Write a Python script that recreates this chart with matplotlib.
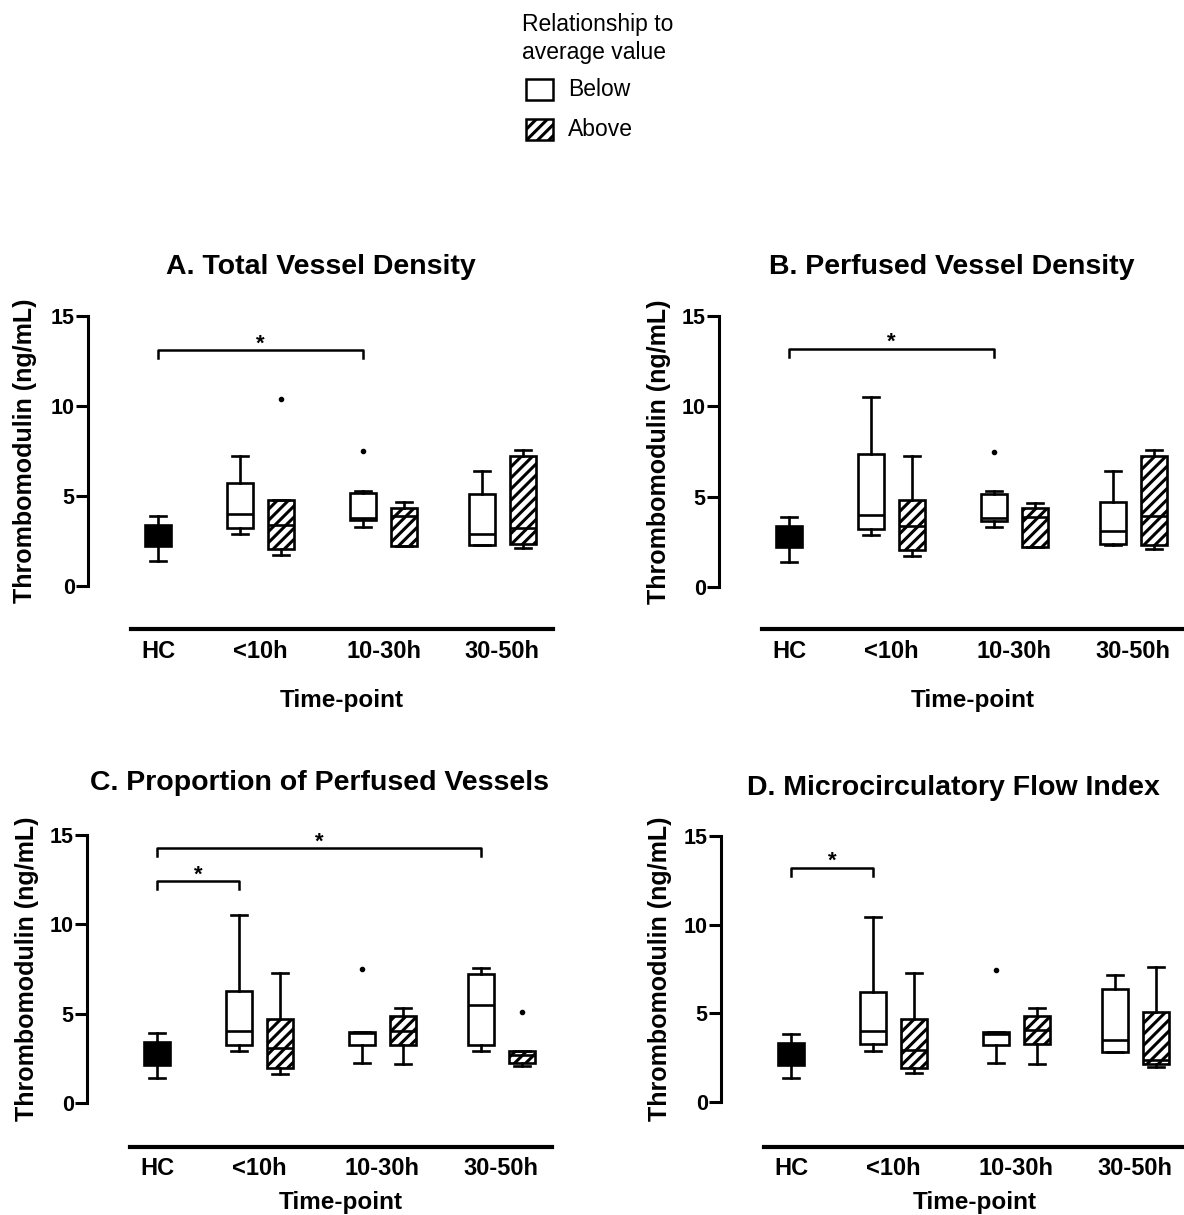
import matplotlib
matplotlib.use('Agg')
import matplotlib.pyplot as plt
from matplotlib.patches import Rectangle

plt.rcParams['font.family'] = ['Liberation Sans', 'DejaVu Sans']
plt.rcParams['hatch.linewidth'] = 2.2

W, H = 1184, 1215

# categories
groups = ['HC', '<10h', '10-30h', '30-50h']
box_kind = ['hc', 'below', 'above', 'below', 'above', 'below', 'above']
box_pos = [0, 2, 3, 5, 6, 7.9, 8.9]
group_pos = [0, 2.5, 5.5, 8.4]

# A. Total Vessel Density
whislo_A = [1.4, 2.9, 1.7, 3.3, 2.2, 2.3, 2.1]
q1_A = [2.2, 3.2, 2.05, 3.65, 2.2, 2.3, 2.35]
med_A = [2.7, 4.0, 3.4, 3.8, 3.9, 2.9, 3.2]
q3_A = [3.4, 5.75, 4.8, 5.15, 4.35, 5.1, 7.2]
whishi_A = [3.9, 7.25, 4.8, 5.3, 4.65, 6.4, 7.55]
fliers_A = [[], [], [10.4], [7.5], [], [], []]

# B. Perfused Vessel Density
whislo_B = [1.4, 2.9, 1.7, 3.3, 2.2, 2.3, 2.1]
q1_B = [2.2, 3.2, 2.05, 3.65, 2.2, 2.4, 2.3]
med_B = [2.7, 4.0, 3.4, 3.8, 3.9, 3.1, 3.95]
q3_B = [3.4, 7.35, 4.8, 5.15, 4.35, 4.7, 7.25]
whishi_B = [3.9, 10.5, 7.25, 5.3, 4.65, 6.4, 7.6]
fliers_B = [[], [], [], [7.5], [], [], []]

# C. Proportion of Perfused Vessels
whislo_C = [1.4, 2.9, 1.65, 2.25, 2.2, 2.9, 2.05]
q1_C = [2.1, 3.25, 1.95, 3.25, 3.25, 3.25, 2.25]
med_C = [2.45, 4.05, 3.1, 3.9, 4.05, 5.5, 2.7]
q3_C = [3.4, 6.25, 4.7, 4.0, 4.85, 7.2, 2.9]
whishi_C = [3.9, 10.5, 7.3, 4.0, 5.3, 7.55, 2.9]
fliers_C = [[], [], [], [7.5], [], [], [5.1]]

# D. Microcirculatory Flow Index
whislo_D = [1.35, 2.85, 1.65, 2.2, 2.15, 2.8, 2.0]
q1_D = [2.1, 3.25, 1.9, 3.2, 3.25, 2.8, 2.15]
med_D = [2.45, 4.0, 2.95, 3.85, 4.05, 3.5, 2.35]
q3_D = [3.35, 6.2, 4.7, 3.95, 4.85, 6.35, 5.1]
whishi_D = [3.85, 10.45, 7.25, 3.95, 5.3, 7.15, 7.6]
fliers_D = [[], [], [], [7.45], [], [], []]

# significance brackets: (from box, to box, height)
brackets_A = [(0, 3, 13.1)]
brackets_B = [(0, 3, 13.2)]
brackets_C = [(0, 1, 12.4), (0, 5, 14.25)]
brackets_D = [(0, 1, 13.2)]

titles = ['A. Total Vessel Density', 'B. Perfused Vessel Density',
          'C. Proportion of Perfused Vessels', 'D. Microcirculatory Flow Index']

fig = plt.figure(figsize=(W / 100, H / 100), dpi=100)


def fx(x):
    return x / W


def fy(y):
    return 1 - y / H


def make_stats(lo, q1, med, q3, hi, fl):
    return [dict(whislo=a, q1=b, med=c, q3=d, whishi=e, fliers=f)
            for a, b, c, d, e, f in zip(lo, q1, med, q3, hi, fl)]


def draw_panel(geom, stats, brackets, title):
    spine_x, y0, y15, line_y, title_y, xlab_y, ylab_x, labpad = geom
    width_px = 465
    unit = 41.0
    ppu = (y0 - y15) / 15.0
    top_val = 15.6
    top_px = y15 - (top_val - 15) * ppu
    ax = fig.add_axes([fx(spine_x), fy(line_y), width_px / W, (line_y - top_px) / H])
    ax.set_xlim(-70 / unit, (width_px - 70) / unit)
    ax.set_ylim(-(line_y - y0) / ppu, top_val)

    bp = ax.bxp(stats, positions=box_pos, widths=0.64, capwidths=0.38,
                patch_artist=True, showfliers=True,
                boxprops=dict(lw=1.9, edgecolor='black', facecolor='white'),
                whiskerprops=dict(lw=1.9, color='black'),
                capprops=dict(lw=1.9, color='black'),
                medianprops=dict(lw=1.9, color='black'),
                flierprops=dict(marker='o', markersize=3,
                                markerfacecolor='black', markeredgecolor='black'))
    for patch, kind in zip(bp['boxes'], box_kind):
        if kind == 'hc':
            patch.set_facecolor('black')
        elif kind == 'above':
            patch.set_hatch('///')

    for i, j, yb in brackets:
        x1, x2 = box_pos[i], box_pos[j]
        ax.plot([x1, x1, x2, x2], [yb - 0.45, yb, yb, yb - 0.45],
                color='black', lw=1.8, clip_on=False)
        ax.text((x1 + x2) / 2, yb + 0.05, '*', ha='center', va='baseline',
                fontsize=16, fontweight='bold')

    for s in ['top', 'right']:
        ax.spines[s].set_visible(False)
    ax.spines['left'].set_bounds(0, 15)
    ax.spines['left'].set_linewidth(2.2)
    ax.spines['bottom'].set_bounds(-0.66, (width_px - 70) / unit)
    ax.spines['bottom'].set_linewidth(3)

    ax.set_yticks([0, 5, 10, 15])
    ax.tick_params(axis='y', length=8.5, width=2.2, pad=1, labelsize=15.5)
    ax.set_xticks(group_pos)
    ax.set_xticklabels(groups)
    ax.tick_params(axis='x', length=0, pad=labpad, labelsize=17)
    for lab in ax.get_xticklabels() + ax.get_yticklabels():
        lab.set_fontweight('bold')

    fig.text(fx(spine_x + width_px / 2), fy(title_y), title, ha='center', va='center',
             fontsize=20.5, fontweight='bold')
    fig.text(fx((spine_x + 43 + spine_x + width_px) / 2), fy(xlab_y), 'Time-point',
             ha='center', va='center', fontsize=17.5, fontweight='bold')
    fig.text(fx(ylab_x), fy((y0 + y15) / 2), 'Thrombomodulin (ng/mL)', rotation=90,
             ha='center', va='center', fontsize=18, fontweight='bold')


geoms = [
    (88, 586, 316, 629, 267, 700, 25, 8),
    (719, 587, 316, 629, 267, 701, 659, 8),
    (87, 1103, 835, 1147, 783, 1203, 27, 7),
    (721, 1102, 836, 1147, 788, 1202, 660, 7),
]
all_stats = [
    make_stats(whislo_A, q1_A, med_A, q3_A, whishi_A, fliers_A),
    make_stats(whislo_B, q1_B, med_B, q3_B, whishi_B, fliers_B),
    make_stats(whislo_C, q1_C, med_C, q3_C, whishi_C, fliers_C),
    make_stats(whislo_D, q1_D, med_D, q3_D, whishi_D, fliers_D),
]
all_brackets = [brackets_A, brackets_B, brackets_C, brackets_D]

for g, st, br, t in zip(geoms, all_stats, all_brackets, titles):
    draw_panel(g, st, br, t)

# legend at the top
fig.text(fx(522), fy(25), 'Relationship to', ha='left', va='center', fontsize=16.5)
fig.text(fx(522), fy(52), 'average value', ha='left', va='center', fontsize=16.5)
for yc, lab, hatch in [(90, 'Below', None), (130, 'Above', '///')]:
    rect = Rectangle((fx(526), fy(yc + 10)), 27 / W, 21 / H, transform=fig.transFigure,
                     facecolor='white', edgecolor='black', lw=1.8, hatch=hatch)
    fig.add_artist(rect)
    fig.text(fx(568), fy(yc), lab, ha='left', va='center', fontsize=16.5)

fig.savefig('out.png', dpi=100)
